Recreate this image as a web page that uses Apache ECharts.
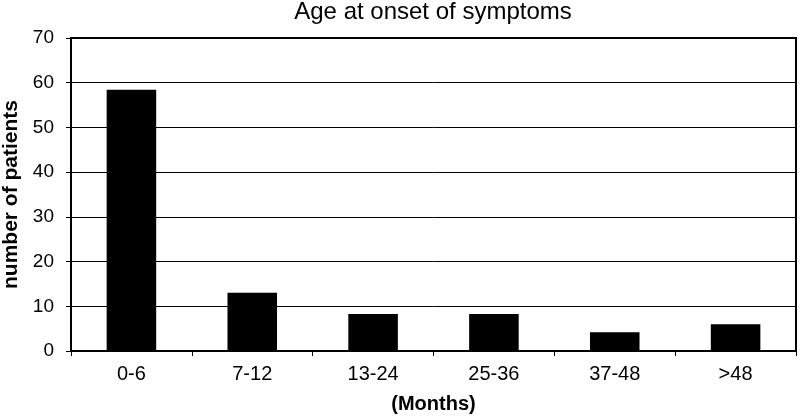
<!DOCTYPE html>
<html><head><meta charset="utf-8">
<script src="https://cdn.jsdelivr.net/npm/echarts@6/dist/echarts.min.js"></script>
<style>html,body{margin:0;padding:0;background:#fff}#c{width:800px;height:416px}</style>
</head><body><div id="c"></div>
<script>
const categories = ['0-6', '7-12', '13-24', '25-36', '37-48', '>48'];
const patients = [58.4, 13, 8.3, 8.3, 4.2, 6];
const chart = echarts.init(document.getElementById('c'));
chart.setOption({
  animation: false,
  backgroundColor: '#fff',
  title: {
    text: 'Age at onset of symptoms', left: 433, top: 0, padding: 0, textAlign: 'center',
    textStyle: {fontFamily: 'Liberation Sans', fontSize: 24, fontWeight: 'normal', color: '#000'}
  },
  grid: {left: 71, right: 4, top: 38, bottom: 65, outerBoundsMode: 'none', containLabel: false,
         show: true, borderColor: '#000', borderWidth: 2, backgroundColor: 'transparent'},
  xAxis: {
    type: 'category', data: categories,
    axisLine: {lineStyle: {color: '#000', width: 2}},
    axisTick: {show: true, length: 5, lineStyle: {color: '#000', width: 1}},
    axisLabel: {fontFamily: 'Liberation Sans', fontSize: 20, color: '#000', margin: 13},
    name: '(Months)', nameLocation: 'middle', nameGap: 43,
    nameTextStyle: {fontFamily: 'Liberation Sans', fontSize: 20, fontWeight: 'bold', color: '#000'}
  },
  yAxis: {
    type: 'value', min: 0, max: 70, interval: 10,
    axisLine: {show: true, lineStyle: {color: '#000', width: 2}},
    axisTick: {show: true, length: 5, lineStyle: {color: '#000'}},
    splitLine: {show: true, lineStyle: {color: '#000', width: 1}},
    axisLabel: {fontFamily: 'Liberation Sans', fontSize: 19, color: '#000', margin: 17},
    name: 'number of patients', nameLocation: 'middle', nameGap: 46, nameRotate: 90,
    nameTextStyle: {fontFamily: 'Liberation Sans', fontSize: 21, fontWeight: 'bold', color: '#000'}
  },
  series: [{
    type: 'bar', data: patients, barWidth: '41%',
    itemStyle: {color: '#000'}
  }]
});
</script></body></html>
